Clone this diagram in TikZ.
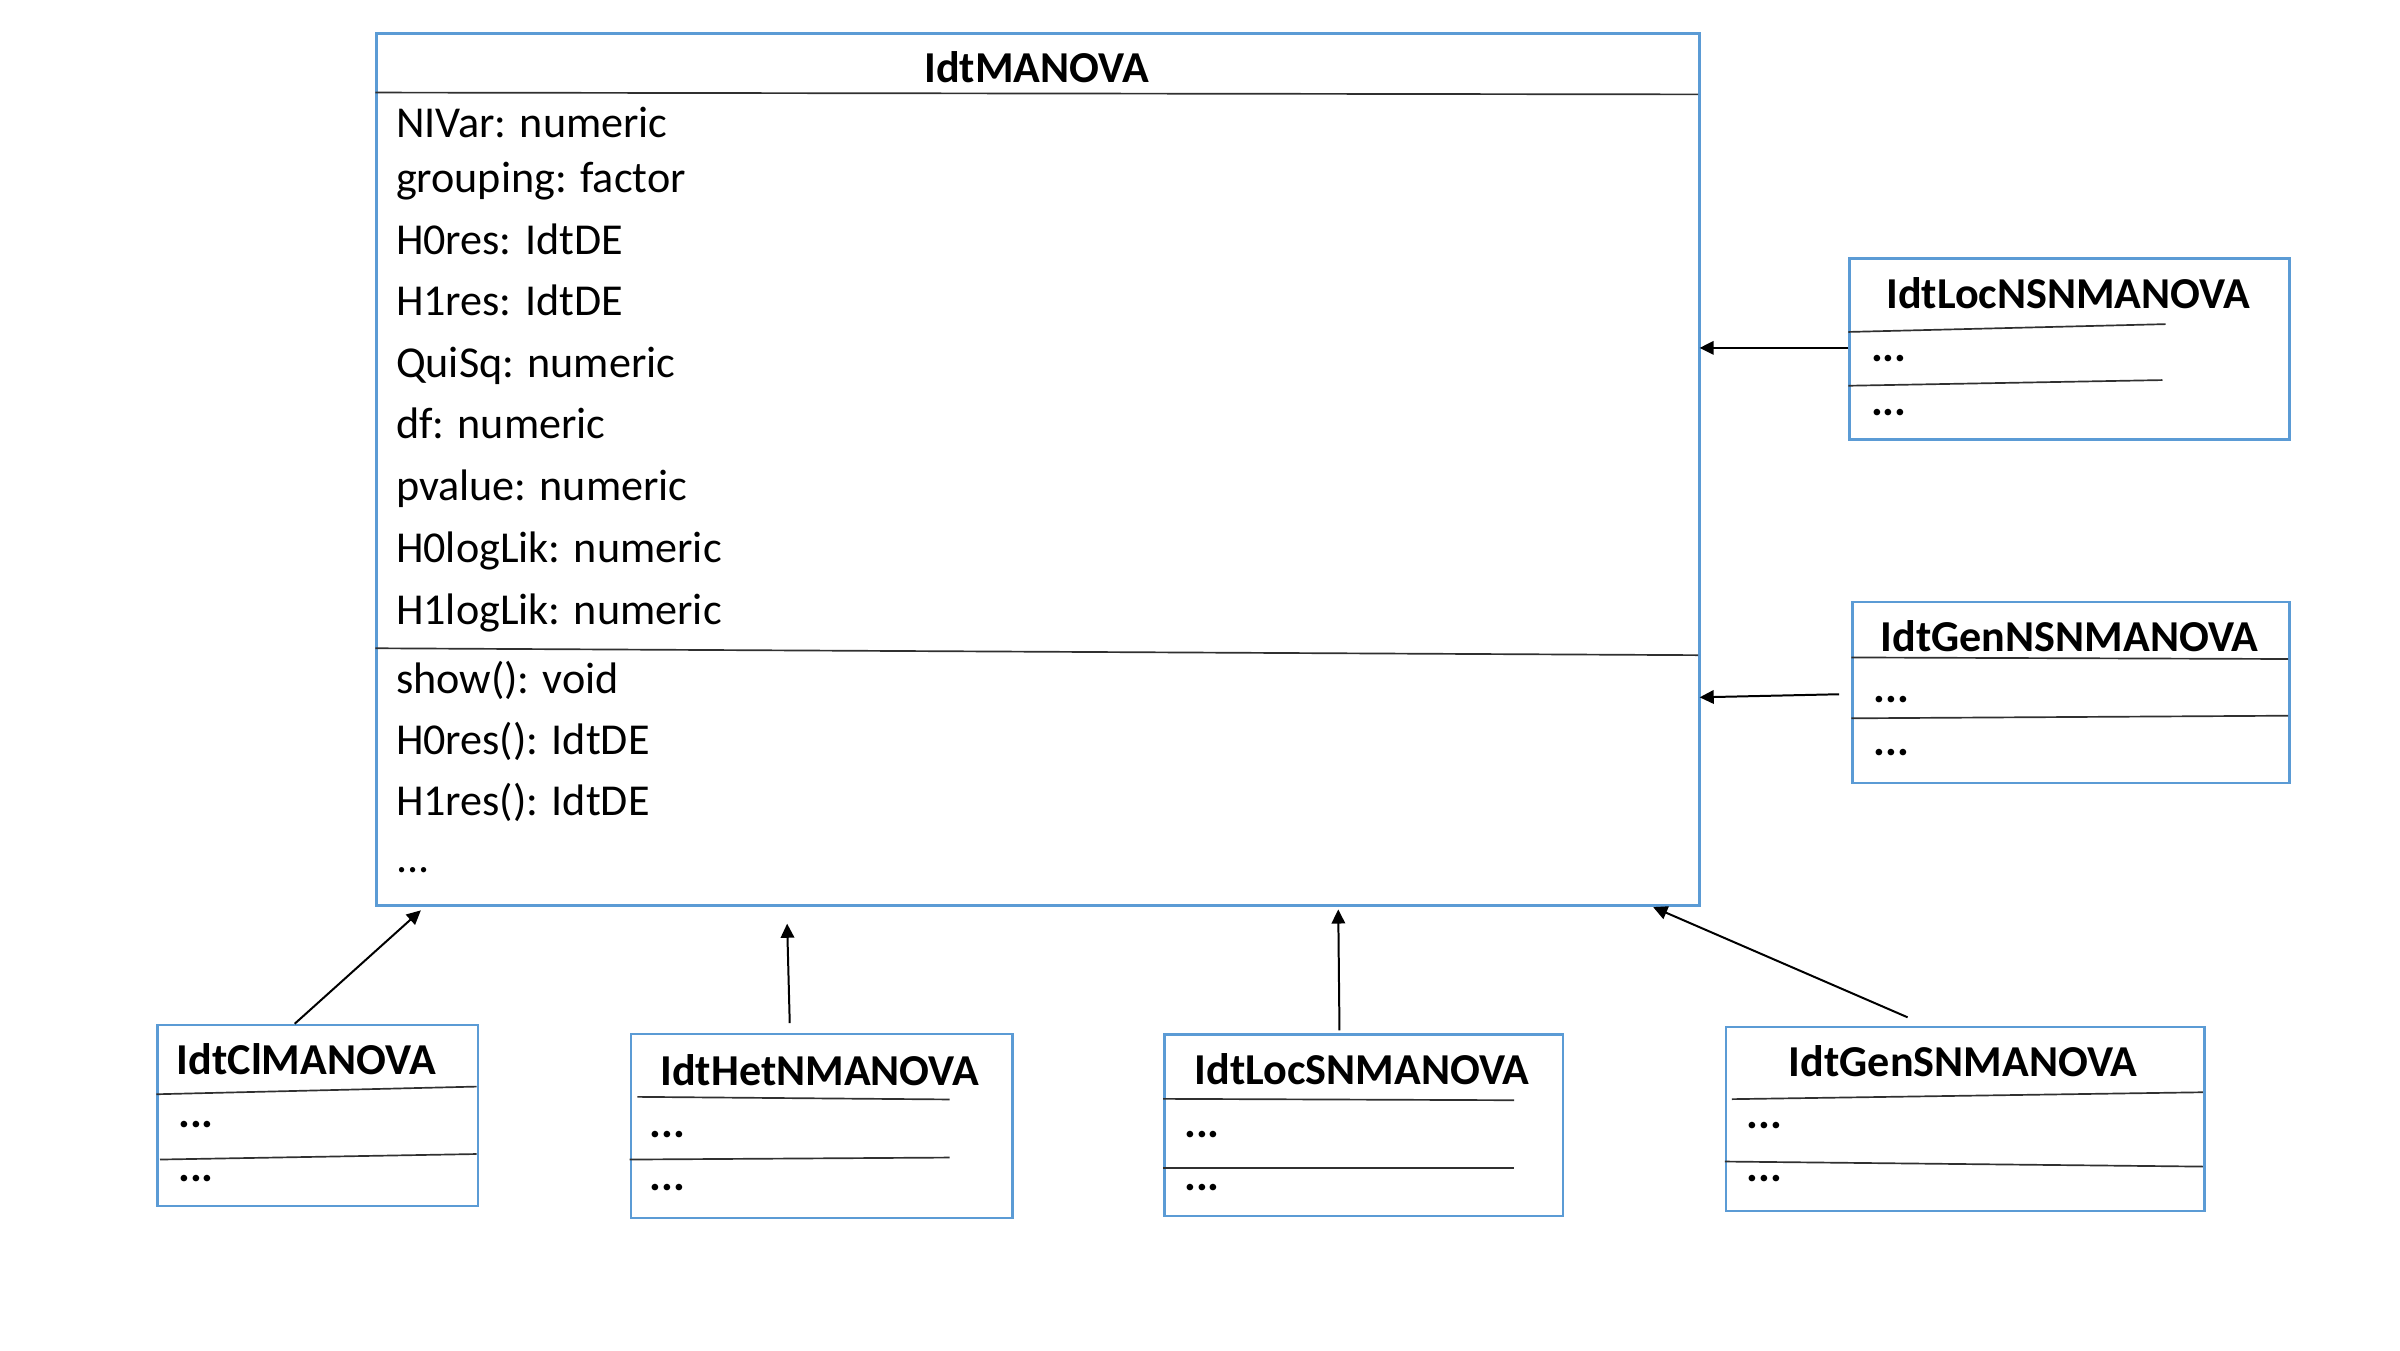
\documentclass[tikz,border=0pt]{standalone}
\usepackage{fontspec}
\setmainfont{Carlito}
\usetikzlibrary{arrows.meta,calc}
\definecolor{boxblue}{HTML}{5B9BD5}
\definecolor{sepgray}{HTML}{303030}
\begin{document}
\begin{tikzpicture}[x=0.5pt,y=-0.5pt,
  cls/.style={draw=boxblue, line width=0.8pt, inner sep=0pt, anchor=north west},
  ttl/.style={font=\fontsize{14.4pt}{17pt}\selectfont\bfseries, anchor=base, inner sep=0pt},
  ttlw/.style={font=\fontsize{14.4pt}{17pt}\selectfont\bfseries, anchor=base west, inner sep=0pt},
  attr/.style={font=\fontsize{14.4pt}{17pt}\selectfont, anchor=base west, inner sep=0pt},
  dots/.style={font=\fontsize{14.4pt}{17pt}\selectfont\bfseries, anchor=base west, inner sep=0pt},
  sep/.style={draw=sepgray, line width=0.55pt},
  inh/.style={-{Triangle[length=4.6pt,width=4.4pt]}, line width=0.65pt}]
\useasboundingbox (0,0) rectangle (1566,881);
\fill[white] (0,0) rectangle (1566,881);

% ---------- main class ----------
\node[cls, minimum width=431.5pt, minimum height=284.5pt] (main) at (245,21) {};
\node[ttl] (mainT) at (676.5,54) {IdtMANOVA};
\draw[sep] (245,60.4) -- (1108,61.6);
\node[attr] (m1) at (258,89.6) {NIVar: numeric};
\node[attr] (m2) at (258,125.5) {grouping: factor};
\node[attr] (m3) at (258,166.3) {H0res: IdtDE};
\node[attr] (m4) at (258,205.8) {H1res: IdtDE};
\node[attr] (m5) at (258,246.2) {QuiSq: numeric};
\node[attr] (m6) at (258,286.2) {df: numeric};
\node[attr] (m7) at (258,326.4) {pvalue: numeric};
\node[attr] (m8) at (258,367) {H0logLik: numeric};
\node[attr] (m9) at (258,407.2) {H1logLik: numeric};
\draw[sep] (245,423) -- (1108,427.5);
\node[attr] (m10) at (258,452.2) {show(): void};
\node[attr] (m11) at (258,492.6) {H0res(): IdtDE};
\node[attr] (m12) at (258,532.4) {H1res(): IdtDE};
\node[attr] (m13) at (258,569) {...};

% ---------- IdtLocNSNMANOVA ----------
\node[cls, minimum width=143.5pt, minimum height=59pt] (locnsn) at (1206,168) {};
\node[ttl] (locnsnT) at (1349.5,201) {IdtLocNSNMANOVA};
\draw[sep] (1206,216.6) -- (1413,211.5);
\draw[sep] (1206,251.7) -- (1411,248);
\node[dots] (locnsnA) at (1220.5,236) {...};
\node[dots] (locnsnB) at (1220.5,270.8) {...};

% ---------- IdtGenNSNMANOVA ----------
\node[cls, minimum width=142.5pt, minimum height=59pt] (gennsn) at (1208,392) {};
\node[ttl] (gennsnT) at (1350.5,425) {IdtGenNSNMANOVA};
\draw[sep] (1208,429) -- (1493,430);
\draw[sep] (1208,468.7) -- (1493,467);
\node[dots] (gennsnA) at (1222,458.5) {...};
\node[dots] (gennsnB) at (1222,493) {...};

% ---------- IdtClMANOVA ----------
\node[cls, minimum width=104.5pt, minimum height=59pt] (cl) at (102,668) {};
\node[ttlw] (clT) at (115,701) {IdtClMANOVA};
\draw[sep] (102,714) -- (311,709);
\draw[sep] (104.4,756.6) -- (311,753);
\node[dots] (clA) at (115.9,736) {...};
\node[dots] (clB) at (115.9,771) {...};

% ---------- IdtHetNMANOVA ----------
\node[cls, minimum width=124.5pt, minimum height=60pt] (het) at (410.8,674) {};
\node[ttl] (hetT) at (535,708) {IdtHetNMANOVA};
\draw[sep] (415.9,715.7) -- (619.6,717.4);
\draw[sep] (410.8,756.6) -- (619.6,755.3);
\node[dots] (hetA) at (423.7,742) {...};
\node[dots] (hetB) at (423.7,776.7) {...};

% ---------- IdtLocSNMANOVA ----------
\node[cls, minimum width=130pt, minimum height=59.2pt] (locsn) at (759,674.1) {};
\node[ttl] (locsnT) at (888.8,707.5) {IdtLocSNMANOVA};
\draw[sep] (759,717) -- (988,717.9);
\draw[sep] (759,762.2) -- (988,762.2);
\node[dots] (locsnA) at (772.3,742) {...};
\node[dots] (locsnB) at (772.3,776.7) {...};

% ---------- IdtGenSNMANOVA ----------
\node[cls, minimum width=156pt, minimum height=60pt] (gensn) at (1125.5,669.4) {};
\node[ttl] (gensnT) at (1281,702.3) {IdtGenSNMANOVA};
\draw[sep] (1130.1,717.2) -- (1437.4,712.7);
\draw[sep] (1125.5,757.9) -- (1437.4,761.2);
\node[dots] (gensnA) at (1139.3,736.3) {...};
\node[dots] (gensnB) at (1139.3,770.9) {...};

% ---------- inheritance arrows ----------
\coordinate (tLocNSN) at (1109,227);
\coordinate (tGenNSN) at (1109,455);
\coordinate (tCl) at (274.6,594);
\coordinate (tHet) at (513.6,602.7);
\coordinate (tLocSN) at (873.2,593.4);
\coordinate (tGenSN) at (1078.7,591.9);
\coordinate (sGenNSN) at (1200,453);

\draw[inh] (locnsn.west |- 0,227) -- (tLocNSN);
\draw[inh] (sGenNSN) -- (tGenNSN);
\draw[inh] ([xshift=-7.5pt]cl.north) -- (tCl);
\draw[inh] ([xshift=-10.4pt,yshift=3.2pt]het.north) -- (tHet);
\draw[inh] ([xshift=-7.9pt,yshift=0.9pt]locsn.north) -- (tLocSN);
\draw[inh] ([xshift=-18.8pt,yshift=2.8pt]gensn.north) -- (tGenSN);
\end{tikzpicture}
\end{document}
